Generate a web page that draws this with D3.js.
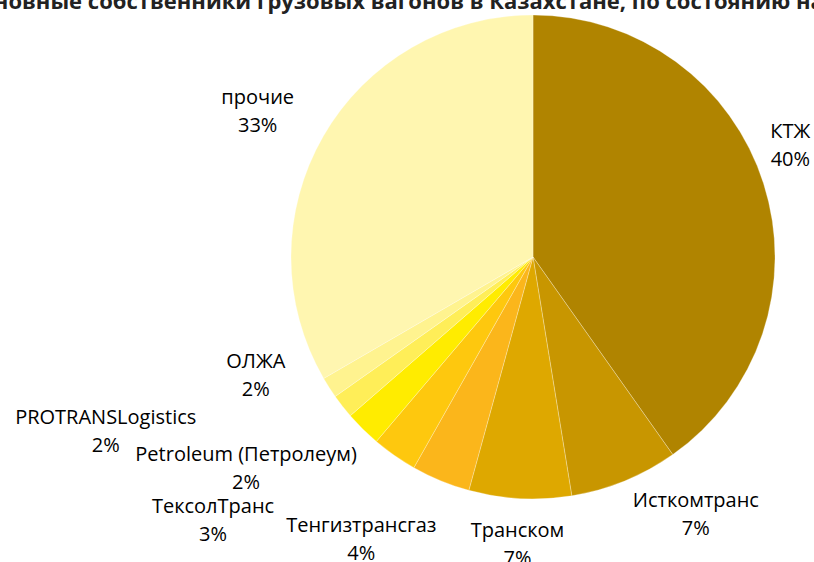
<!DOCTYPE html>
<html>
<head>
<meta charset="utf-8">
<script src="https://cdn.jsdelivr.net/npm/d3@7"></script>
<style>
  body { margin: 0; background: #fff; }
  svg { display: block; font-family: "Open Sans", "Noto Sans", sans-serif; }
</style>
</head>
<body>
<script>
// owners of freight wagons, share of fleet (%)
var owners = ["КТЖ", "Исткомтранс", "Транском", "Тенгизтрансгаз", "ТексолТранс",
              "Petroleum (Петролеум)", "PROTRANSLogistics", "ОЛЖА", "прочие"];
var shares = [40, 7.2, 6.8, 3.9, 3.0, 2.4, 1.6, 1.4, 33.2];
var shareLabels = ["40%", "7%", "7%", "4%", "3%", "2%", "2%", "2%", "33%"];
var colors = ["#b08400", "#c89600", "#dea800", "#fbb61b", "#fec80e",
              "#ffec00", "#ffee58", "#fff38f", "#fff6b0"];
// hand nudges for the labels, like the original layout
var nudges = [[-19, -24], [53, -11], [0, -3], [-61, 14], [-154, 25],
              [-83, 5], [-199, -5], [-33, -38], [-24, -1]];

var width = 814, height = 562;
var cx = 533, cy = 257, radius = 242;

var svg = d3.select("body").append("svg")
    .attr("width", width)
    .attr("height", height);

svg.append("text")
    .attr("x", -35)
    .attr("y", 9)
    .attr("font-weight", "bold")
    .attr("font-size", 22)
    .attr("fill", "#222")
    .text("Основные собственники грузовых вагонов в Казахстане, по состоянию на 01.01.2016 г.");

var data = owners.map(function(d, i) {
  return { name: d, value: shares[i], label: shareLabels[i], color: colors[i], nudge: nudges[i] };
});

var pie = d3.pie().sort(null).value(function(d) { return d.value; });
var arc = d3.arc().innerRadius(0).outerRadius(radius);
var labelArc = d3.arc().innerRadius(290).outerRadius(290);

var g = svg.append("g")
    .attr("transform", "translate(" + cx + "," + cy + ")");

g.selectAll(".slice")
  .data(pie(data))
  .enter().append("path")
    .attr("class", "slice")
    .attr("d", arc)
    .attr("fill", function(d) { return d.data.color; })
    .attr("stroke", "rgba(255,255,255,0.35)")
    .attr("stroke-width", 0.8);

var labels = g.selectAll(".label")
  .data(pie(data))
  .enter().append("text")
    .attr("class", "label")
    .attr("text-anchor", "middle")
    .attr("font-size", 20)
    .attr("fill", "#000")
    .attr("transform", function(d) {
      var c = labelArc.centroid(d);
      return "translate(" + (c[0] + d.data.nudge[0]) + "," + (c[1] + d.data.nudge[1]) + ")";
    });

labels.append("tspan")
    .attr("x", 0)
    .attr("y", -7)
    .text(function(d) { return d.data.name; });

labels.append("tspan")
    .attr("x", 0)
    .attr("y", 21)
    .text(function(d) { return d.data.label; });
</script>
</body>
</html>
